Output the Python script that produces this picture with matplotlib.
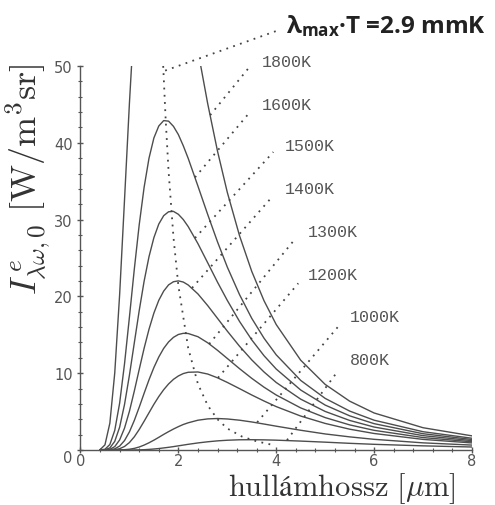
import numpy as np
import matplotlib
matplotlib.use("Agg")
import matplotlib.pyplot as plt
from matplotlib.ticker import MultipleLocator

plt.rcParams['mathtext.fontset'] = 'cm'
plt.rcParams['mathtext.rm'] = 'Open Sans'
plt.rcParams['mathtext.bf'] = 'Open Sans:bold'
plt.rcParams['mathtext.it'] = 'Open Sans:italic'

# wavelength [um] and spectral intensity
wavelength = [0.4, 0.5, 0.6, 0.7, 0.8, 0.9, 1.0, 1.1, 1.2, 1.3, 1.4, 1.5, 1.6, 1.7, 1.8,
              1.9, 2.0, 2.1, 2.2, 2.4, 2.6, 2.8, 3.0, 3.25, 3.5, 3.75, 4.0, 4.5, 5.0,
              5.5, 6.0, 7.0, 8.0]

I1800 = [0.04, 0.67, 3.49, 10.02, 20.23, 32.61, 45.15, 56.37, 65.28, 71.63, 75.52, 77.19,
         77.16, 75.75, 73.40, 70.32, 66.86, 63.19, 59.40, 51.99, 45.08, 38.91, 33.55,
         27.90, 23.25, 19.44, 16.33, 11.69, 8.54, 6.36, 4.82, 2.90, 1.84]
I1600 = [0.0, 0.10, 0.71, 2.55, 6.10, 11.23, 17.30, 23.56, 29.33, 34.20, 37.99, 40.63,
         42.19, 42.89, 42.82, 42.14, 41.07, 39.62, 37.99, 34.36, 30.66, 27.10, 23.82,
         20.23, 17.14, 14.56, 12.39, 9.06, 6.72, 5.07, 3.88, 2.38, 1.53]
I1500 = [0.0, 0.03, 0.27, 1.12, 2.97, 5.93, 9.74, 13.96, 18.15, 21.97, 25.17, 27.65,
         29.42, 30.51, 31.02, 31.07, 30.69, 30.01, 29.10, 26.87, 24.37, 21.85, 19.48,
         16.74, 14.34, 12.28, 10.54, 7.81, 5.85, 4.45, 3.43, 2.12, 1.37]
I1400 = [0.0, 0.0, 0.09, 0.44, 1.31, 2.85, 5.04, 7.68, 10.49, 13.24, 15.72, 17.83,
         19.49, 20.69, 21.50, 21.91, 22.02, 21.87, 21.49, 20.32, 18.80, 17.14, 15.48,
         13.51, 11.73, 10.16, 8.79, 6.62, 5.02, 3.85, 2.99, 1.87, 1.22]
I1300 = [0.0, 0.0, 0.03, 0.15, 0.51, 1.23, 2.36, 3.85, 5.57, 7.38, 9.14, 10.74,
         12.11, 13.23, 14.07, 14.67, 15.04, 15.19, 15.17, 14.75, 13.96, 12.98, 11.92,
         10.59, 9.33, 8.18, 7.16, 5.48, 4.22, 3.27, 2.56, 1.62, 1.07]
I1200 = [0.0, 0.0, 0.01, 0.04, 0.17, 0.46, 0.97, 1.72, 2.67, 3.74, 4.85, 5.95,
         6.96, 7.85, 8.60, 9.20, 9.64, 9.95, 10.12, 10.16, 9.89, 9.40, 8.80,
         7.99, 7.16, 6.38, 5.65, 4.42, 3.46, 2.71, 2.15, 1.38, 0.92]
I1000 = [0.0, 0.0, 0.0, 0.0, 0.01, 0.04, 0.10, 0.21, 0.39, 0.64, 0.94, 1.28,
         1.65, 2.03, 2.39, 2.73, 3.04, 3.32, 3.54, 3.88, 4.05, 4.10, 4.04,
         3.88, 3.65, 3.38, 3.10, 2.57, 2.09, 1.71, 1.39, 0.93, 0.64]
I800 = [0.0, 0.0, 0.0, 0.0, 0.0, 0.0, 0.0, 0.01, 0.02, 0.04, 0.08, 0.13,
        0.19, 0.27, 0.35, 0.44, 0.54, 0.64, 0.74, 0.92, 1.07, 1.19, 1.27,
        1.33, 1.34, 1.32, 1.28, 1.16, 1.02, 0.87, 0.74, 0.54, 0.39]

curves = [I1800, I1600, I1500, I1400, I1300, I1200, I1000, I800]
temp_labels = ['1800K', '1600K', '1500K', '1400K', '1300K', '1200K', '1000K', '800K']

# peak locus (lambda_max * T = const)
wien_x = [1.69, 1.74, 1.8, 1.9, 2.0, 2.2, 2.4, 2.6, 2.8, 3.0, 3.3, 3.6, 3.9]
wien_y = [50.0, 43.1, 36.3, 27.7, 21.4, 13.3, 8.6, 5.8, 4.0, 2.8, 1.75, 1.13, 0.7]

# label text position and leader line (start on curve -> end near text)
label_pos = [(3.71, 50.65), (3.71, 45.05), (4.18, 39.6), (4.18, 34.0),
             (4.65, 28.5), (4.65, 22.9), (5.51, 17.4), (5.51, 11.8)]
leaders = [((2.65, 43.6), (3.47, 50.0)), ((2.34, 35.5), (3.43, 43.75)),
           ((2.34, 27.6), (3.94, 38.8)), ((2.28, 21.1), (3.88, 32.7)),
           ((2.63, 13.8), (4.35, 27.2)), ((2.81, 9.4), (4.45, 21.7)),
           ((3.61, 3.6), (5.31, 16.4)), ((4.22, 1.28), (5.25, 10.2))]

line_c = '#4d4d4d'
dot_c = '#444444'
dotted = (0, (1, 3))

fig = plt.figure(figsize=(4.95, 5.06), dpi=100)
ax = fig.add_axes([0.1626, 0.1087, 0.7909, 0.7589])

for y in curves:
    ax.plot(wavelength, y, color=line_c, lw=1.0)

ax.plot(wien_x, wien_y, color=dot_c, lw=1.3, linestyle=dotted, clip_on=False)
ax.plot([1.73, 4.02], [49.4, 54.6], color=dot_c, lw=1.3, linestyle=dotted, clip_on=False)

for (s, e), (tx, ty), lab in zip(leaders, label_pos, temp_labels):
    ax.plot([s[0], e[0]], [s[1], e[1]], color=dot_c, lw=1.3, linestyle=dotted, clip_on=False)
    ax.text(tx, ty, lab, family='Liberation Mono', fontsize=12, color='#555555',
            ha='left', va='center', clip_on=False)

ax.text(4.2, 54.4, r'$\mathbf{\lambda_{max}}$' + '\u00b7T =2.9 mmK', math_fontfamily='custom',
        family='Open Sans', fontweight='bold', fontsize=17.5, color='#222222',
        ha='left', va='baseline', clip_on=False)

ax.set_xlim(0, 8)
ax.set_ylim(0, 50)
ax.set_xticks([0, 2, 4, 6, 8])
ax.set_yticks([0, 10, 20, 30, 40, 50])
ax.xaxis.set_minor_locator(MultipleLocator(0.4))
ax.yaxis.set_minor_locator(MultipleLocator(2))
ax.tick_params(which='major', direction='inout', length=5, width=1, color='#555555',
               labelsize=10.5, labelcolor='#555555', pad=3)
ax.tick_params(axis='x', which='major', pad=0)
ax.tick_params(which='minor', direction='inout', length=3, width=0.8, color='#555555')
ax.get_yticklabels()[0].set_va('top')

for side in ['top', 'right']:
    ax.spines[side].set_visible(False)
for side in ['left', 'bottom']:
    ax.spines[side].set_color('#555555')
    ax.spines[side].set_linewidth(1.0)

fig.text(0.057, 0.645, r'$I^{\,e}_{\lambda\omega,0}\ [\mathrm{W/m^3sr}]$', rotation=90,
         fontsize=26, color='#333333', ha='center', va='center')
fig.text(0.69, 0.02, r'$\mathrm{hullámhossz}\ [\mu\mathrm{m}]$',
         fontsize=22, color='#333333', ha='center', va='baseline')

fig.savefig('out.png', dpi=100)
